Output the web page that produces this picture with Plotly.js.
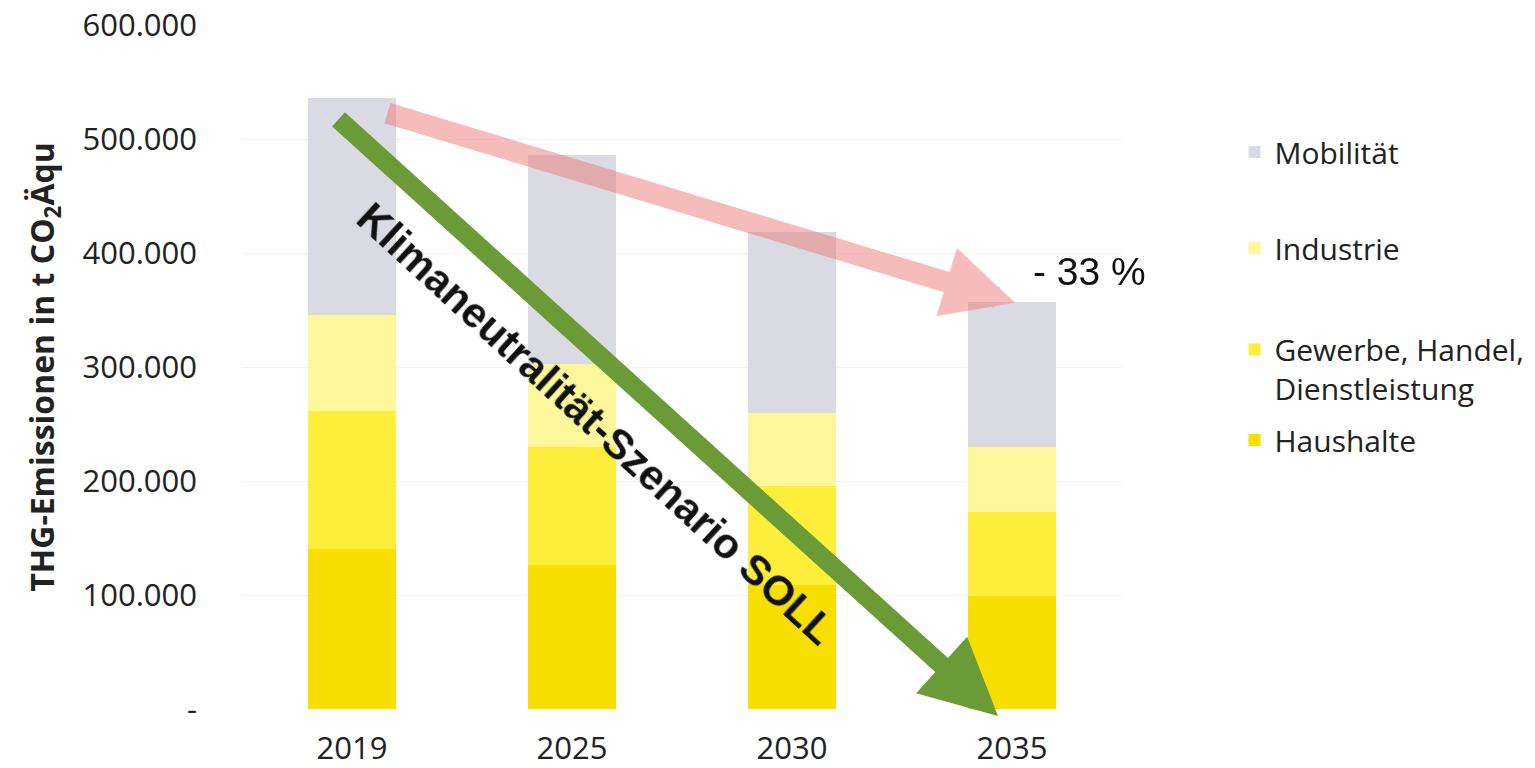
<!DOCTYPE html>
<html>
<head>
<meta charset="utf-8">
<script src="https://cdn.plot.ly/plotly-3.0.1.min.js"></script>
<style>html,body{margin:0;padding:0;background:#fff;}#chart{width:1535px;height:768px;}</style>
</head>
<body>
<div id="chart"></div>
<script>
// ---- data (t CO2-Äquivalent) ----
const years = ['2019', '2025', '2030', '2035'];
const haushalte = [140000, 126000, 109000, 99000];
const gewerbe = [121000, 104000, 87000, 74000];
const industrie = [85000, 73000, 64000, 57000];
const mobilitaet = [190000, 183000, 158000, 127000];
const seriesNames = ['Haushalte', 'Gewerbe, Handel,<br>Dienstleistung', 'Industrie', 'Mobilität'];
const seriesColors = ['#f7df00', '#fdee3c', '#fbf79a', '#dadbe2'];
const yTickVals = [0, 100000, 200000, 300000, 400000, 500000, 600000];
const yTickText = ['-', '100.000', '200.000', '300.000', '400.000', '500.000', '600.000'];
const changeLabel = '- 33 %';
const scenarioLabel = 'Klimaneutralität-Szenario SOLL';

const values = [haushalte, gewerbe, industrie, mobilitaet];
const legendIds = ['legend4', 'legend3', 'legend2', 'legend'];

const traces = values.map((v, i) => ({
  type: 'bar',
  x: years,
  y: v,
  name: seriesNames[i],
  marker: {color: seriesColors[i], line: {width: 0}},
  legend: legendIds[i],
  hoverinfo: 'skip'
}));

const legendFont = {family: 'Open Sans', size: 30, color: '#222'};
function leg(y, valign) {
  return {xref: 'container', yref: 'container', x: 0.8042, xanchor: 'left', y: y, yanchor: 'middle',
          bgcolor: 'rgba(0,0,0,0)', font: legendFont, valign: valign || 'middle', borderwidth: 0};
}

const layout = {
  width: 1535, height: 768,
  margin: {l: 242, r: 413, t: 25, b: 59, autoexpand: false},
  paper_bgcolor: '#fff', plot_bgcolor: '#fff',
  barmode: 'stack',
  bargap: 0.6,
  showlegend: true,
  legend: leg(0.8021),
  legend2: leg(0.6771),
  legend3: leg(0.5195, 'top'),
  legend4: leg(0.4271),
  xaxis: {
    type: 'category',
    tickfont: {family: 'Open Sans', size: 31, color: '#222'},
    showgrid: false, zeroline: false, showline: false, ticks: '',
    ticklabelstandoff: 18
  },
  yaxis: {
    range: [0, 600000],
    tickvals: yTickVals,
    ticktext: yTickText,
    tickfont: {family: 'Open Sans', size: 31, color: '#222'},
    showgrid: true, gridcolor: '#f3f3f3', gridwidth: 1,
    zeroline: false, showline: false, ticks: '',
    ticklabelstandoff: 44,
    title: {
      text: 'THG-Emissionen in t CO<sub>2</sub>Äqu',
      font: {family: 'Open Sans', size: 32, color: '#222', weight: 'bold'},
      standoff: 18
    }
  },
  annotations: [
    { // Klimaneutralität-Szenario arrow
      xref: 'paper', yref: 'paper', x: 0.8591, y: -0.0102,
      axref: 'pixel', ayref: 'pixel', ax: -661, ay: -598,
      text: '', showarrow: true, arrowhead: 2, arrowsize: 0.8, arrowwidth: 19,
      arrowcolor: '#6b9b37', standoff: 0, startstandoff: 0
    },
    { // trend arrow
      xref: 'paper', yref: 'paper', x: 0.8784, y: 0.594,
      axref: 'pixel', ayref: 'pixel', ax: -629, ay: -190,
      text: '', showarrow: true, arrowhead: 2, arrowsize: 0.68, arrowwidth: 21,
      arrowcolor: 'rgba(236,120,120,0.5)', standoff: 0, startstandoff: 0
    },
    {
      xref: 'paper', yref: 'paper', x: 0.4023, y: 0.4170,
      text: scenarioLabel, showarrow: false, textangle: 42.5,
      font: {family: 'Liberation Sans, Arial', size: 42, color: '#111', weight: 'bold'},
      xanchor: 'center', yanchor: 'middle'
    },
    {
      xref: 'paper', yref: 'paper', x: 0.9636, y: 0.6389,
      text: changeLabel, showarrow: false,
      font: {family: 'Liberation Sans, Arial', size: 39, color: '#111'},
      xanchor: 'center', yanchor: 'middle'
    }
  ]
};

Plotly.newPlot('chart', traces, layout, {staticPlot: true, displayModeBar: false});
</script>
</body>
</html>
